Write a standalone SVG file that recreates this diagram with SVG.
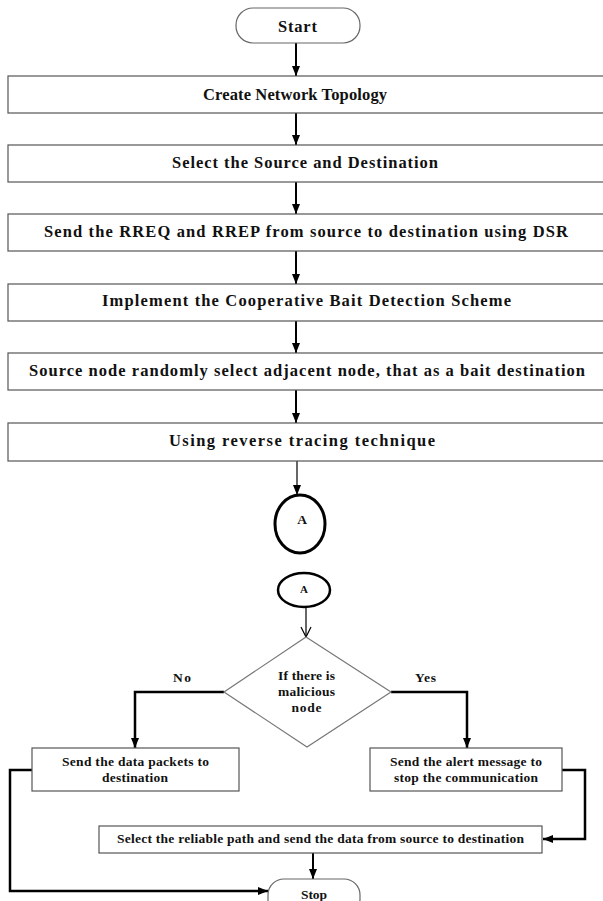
<svg xmlns="http://www.w3.org/2000/svg" width="603" height="901" viewBox="0 0 603 901">
<defs>
<style>
text{font-family:"Liberation Serif","Times New Roman",serif;font-weight:bold;fill:#111;text-anchor:middle;dominant-baseline:central}
.big{font-size:16.5px}
.sm{font-size:13.5px}
.box{fill:#fff;stroke:#555;stroke-width:1.2}
.term{fill:#fff;stroke:#666;stroke-width:1.2}
.circ{fill:#fff;stroke:#000;stroke-width:3}
.c{fill:none;stroke:#000;stroke-width:2}
.ct{fill:none;stroke:#000;stroke-width:1.2}
.thick{fill:none;stroke:#000;stroke-width:2.5}
</style>
<marker id="ah" markerUnits="userSpaceOnUse" markerWidth="10" markerHeight="10" viewBox="0 0 10 10" refX="10" refY="5" orient="auto">
<path d="M0,1 L10,5 L0,9 Z" fill="#000"/>
</marker>
<marker id="av" markerUnits="userSpaceOnUse" markerWidth="12" markerHeight="12" viewBox="0 0 12 12" refX="11" refY="6" orient="auto">
<path d="M1,1 L11,6 L1,11" fill="none" stroke="#000" stroke-width="1.2"/>
</marker>
</defs>
<rect width="603" height="901" fill="#fff"/>

<g id="connectors">
<path class="c" d="M296,43 V76" marker-end="url(#ah)"/>
<path class="c" d="M296,113 V145" marker-end="url(#ah)"/>
<path class="c" d="M296,182 V214" marker-end="url(#ah)"/>
<path class="c" d="M296,251 V284" marker-end="url(#ah)"/>
<path class="c" d="M296,321 V353" marker-end="url(#ah)"/>
<path class="c" d="M296,390 V423" marker-end="url(#ah)"/>
<path class="ct" d="M297,461 V495" marker-end="url(#ah)"/>
<path class="ct" d="M306,608 V637" marker-end="url(#av)"/>
<path class="thick" d="M224,692 H135 V748" marker-end="url(#ah)"/>
<path class="thick" d="M391,692 H467 V748" marker-end="url(#ah)"/>
<path class="thick" d="M32,770 H10 V891 H268" marker-end="url(#ah)"/>
<path class="thick" d="M562,770 H585 V839 H543" marker-end="url(#ah)"/>
<path class="c" d="M313,853 V879" marker-end="url(#ah)"/>
</g>

<g id="start">
<rect class="term" x="236" y="8" width="124" height="35" rx="17"/>
<text class="big" x="297.5" y="26" textLength="39" lengthAdjust="spacing">Start</text>
</g>
<g id="create-topology">
<rect class="box" x="8" y="76" width="605" height="37"/>
<text class="big" x="295" y="94" textLength="184" lengthAdjust="spacing">Create Network Topology</text>
</g>
<g id="select-source-destination">
<rect class="box" x="8" y="145" width="605" height="37"/>
<text class="big" x="305" y="162" textLength="266" lengthAdjust="spacing">Select the Source and Destination</text>
</g>
<g id="send-rreq-rrep">
<rect class="box" x="8" y="214" width="605" height="37"/>
<text class="big" x="306" y="231" textLength="524" lengthAdjust="spacing">Send the RREQ and RREP from source to destination using DSR</text>
</g>
<g id="implement-cbds">
<rect class="box" x="8" y="284" width="605" height="37"/>
<text class="big" x="306.5" y="300" textLength="409" lengthAdjust="spacing">Implement the Cooperative Bait Detection Scheme</text>
</g>
<g id="bait-destination">
<rect class="box" x="8" y="353" width="605" height="37"/>
<text class="big" x="307" y="370" textLength="556" lengthAdjust="spacing">Source node randomly select adjacent node, that as a bait destination</text>
</g>
<g id="reverse-tracing">
<rect class="box" x="8" y="423" width="605" height="38"/>
<text class="big" x="302" y="440" textLength="266" lengthAdjust="spacing">Using reverse tracing technique</text>
</g>
<g id="connector-a-out">
<ellipse class="circ" cx="300" cy="524" rx="25" ry="29"/>
<text class="sm" x="302" y="519">A</text>
</g>
<g id="connector-a-in">
<ellipse class="circ" cx="304" cy="590" rx="26" ry="17" style="stroke-width:2.5"/>
<text class="sm" x="304" y="589" style="font-size:11px">A</text>
</g>
<g id="decision">
<polygon points="306,637 391,692 307,747 224,692" fill="#fff" stroke="#777" stroke-width="1.2"/>
<text class="sm" x="306.5" y="675" textLength="57" lengthAdjust="spacing">If there is</text>
<text class="sm" x="306.5" y="691" textLength="57" lengthAdjust="spacing">malicious</text>
<text class="sm" x="306.5" y="707" textLength="30" lengthAdjust="spacing">node</text>
</g>
<g id="labels">
<text class="sm" x="182" y="677" textLength="18" lengthAdjust="spacing">No</text>
<text class="sm" x="425.5" y="677" textLength="21" lengthAdjust="spacing">Yes</text>
</g>
<g id="send-data-packets">
<rect class="box" x="32" y="748" width="207" height="43"/>
<text class="sm" x="135.5" y="761" textLength="147" lengthAdjust="spacing">Send the data packets to</text>
<text class="sm" x="135" y="777" textLength="66" lengthAdjust="spacing">destination</text>
</g>
<g id="send-alert">
<rect class="box" x="370" y="748" width="192" height="43"/>
<text class="sm" x="466" y="761" textLength="152" lengthAdjust="spacing">Send the alert message to</text>
<text class="sm" x="466" y="777" textLength="144" lengthAdjust="spacing">stop the communication</text>
</g>
<g id="reliable-path">
<rect class="box" x="99" y="826" width="443" height="27"/>
<text class="sm" x="320.5" y="838" textLength="407" lengthAdjust="spacing">Select the reliable path and send the data from source to destination</text>
</g>
<g id="stop">
<rect class="term" x="268" y="879" width="92" height="36" rx="16"/>
<text class="sm" x="314" y="894" textLength="26" lengthAdjust="spacing">Stop</text>
</g>
</svg>
